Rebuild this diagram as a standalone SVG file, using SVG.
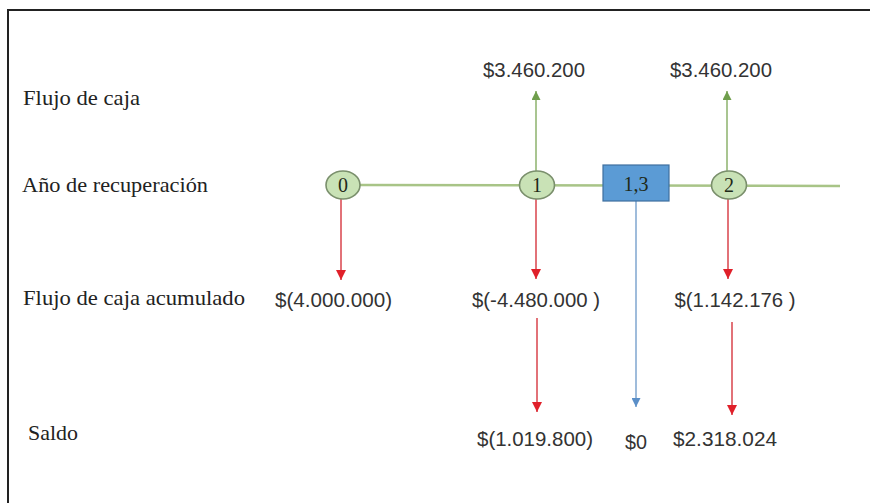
<svg xmlns="http://www.w3.org/2000/svg" width="870" height="503" viewBox="0 0 870 503">
  <defs>
    <marker id="headRed" viewBox="0 0 10 10" refX="10" refY="5" markerWidth="10" markerHeight="10" markerUnits="userSpaceOnUse" orient="auto">
      <path d="M0,0 L10,5 L0,10 z" fill="#e0202a"/>
    </marker>
    <marker id="headGreen" viewBox="0 0 10 10" refX="10" refY="5" markerWidth="10" markerHeight="9" markerUnits="userSpaceOnUse" orient="auto">
      <path d="M0,0 L10,5 L0,10 z" fill="#6f9e4c"/>
    </marker>
    <marker id="headBlue" viewBox="0 0 10 10" refX="10" refY="5" markerWidth="10" markerHeight="9" markerUnits="userSpaceOnUse" orient="auto">
      <path d="M0,0 L10,5 L0,10 z" fill="#5b8fc8"/>
    </marker>
  </defs>
  <style>
    .row { font-family: "Liberation Serif", "Times New Roman", serif; font-size: 22px; fill: #222; }
    .amt { font-family: "Liberation Sans", Arial, sans-serif; font-size: 20px; fill: #333; text-anchor: middle; }
    .yr { fill: #c9e2b6; stroke: #7a8f6c; stroke-width: 1.6; }
    .yrtxt { font-family: "Liberation Serif", "Times New Roman", serif; font-size: 20px; fill: #1f2a18; text-anchor: middle; }
    .axis { stroke: #a8c487; stroke-width: 2.5; fill: none; }
    .up { stroke: #8db26c; stroke-width: 1.5; fill: none; marker-end: url(#headGreen); }
    .down { stroke: #d9434b; stroke-width: 1.5; fill: none; marker-end: url(#headRed); }
    .zero { stroke: #7fa6cf; stroke-width: 1.5; fill: none; marker-end: url(#headBlue); }
  </style>

  <rect width="870" height="503" fill="#ffffff"/>
  <!-- frame -->
  <polyline points="8,503 8,10 870,10" fill="none" stroke="#222" stroke-width="2"/>

  <!-- row titles -->
  <g id="row-labels">
    <text class="row" x="23" y="105" textLength="117" lengthAdjust="spacingAndGlyphs">Flujo de caja</text>
    <text class="row" x="22" y="192" textLength="186" lengthAdjust="spacingAndGlyphs">Año de recuperación</text>
    <text class="row" x="23" y="305" textLength="222" lengthAdjust="spacingAndGlyphs">Flujo de caja acumulado</text>
    <text class="row" x="28" y="440" textLength="50" lengthAdjust="spacingAndGlyphs">Saldo</text>
  </g>

  <!-- connectors -->
  <g id="connectors">
    <line class="axis" x1="360" y1="185" x2="840" y2="186"/>
    <line class="up" x1="536" y1="171" x2="536" y2="91"/>
    <line class="up" x1="727" y1="171" x2="727" y2="91"/>
    <line class="down" x1="341" y1="199" x2="341" y2="280"/>
    <line class="down" x1="536" y1="199" x2="536" y2="279"/>
    <line class="down" x1="728" y1="199" x2="728" y2="279"/>
    <line class="down" x1="537" y1="318" x2="537" y2="412"/>
    <line class="down" x1="732" y1="322" x2="732" y2="415"/>
    <line class="zero" x1="636" y1="201" x2="636" y2="407"/>
  </g>

  <!-- years on the time line -->
  <g id="year-0">
    <ellipse class="yr" cx="343" cy="185" rx="17" ry="14"/>
    <text class="yrtxt" x="343" y="192">0</text>
  </g>
  <g id="year-1">
    <ellipse class="yr" cx="537" cy="185" rx="17.5" ry="14"/>
    <text class="yrtxt" x="537" y="192">1</text>
  </g>
  <g id="payback">
    <rect x="603" y="165" width="66" height="36" fill="#5b9bd5" stroke="#3f6f9f" stroke-width="1.2"/>
    <text class="yrtxt" x="636" y="191">1,3</text>
  </g>
  <g id="year-2">
    <ellipse class="yr" cx="729" cy="185" rx="17.5" ry="14"/>
    <text class="yrtxt" x="729" y="192">2</text>
  </g>

  <!-- amounts -->
  <g id="amounts">
    <text class="amt" x="534" y="77" textLength="102" lengthAdjust="spacingAndGlyphs">$3.460.200</text>
    <text class="amt" x="721" y="77" textLength="102" lengthAdjust="spacingAndGlyphs">$3.460.200</text>
    <text class="amt" x="333.5" y="307" textLength="117" lengthAdjust="spacingAndGlyphs">$(4.000.000)</text>
    <text class="amt" x="536" y="307" textLength="128" lengthAdjust="spacingAndGlyphs">$(-4.480.000 )</text>
    <text class="amt" x="735" y="307" textLength="121" lengthAdjust="spacingAndGlyphs">$(1.142.176 )</text>
    <text class="amt" x="535" y="446" textLength="116" lengthAdjust="spacingAndGlyphs">$(1.019.800)</text>
    <text class="amt" x="636" y="449" textLength="22" lengthAdjust="spacingAndGlyphs">$0</text>
    <text class="amt" x="725" y="446" textLength="104" lengthAdjust="spacingAndGlyphs">$2.318.024</text>
  </g>
</svg>
